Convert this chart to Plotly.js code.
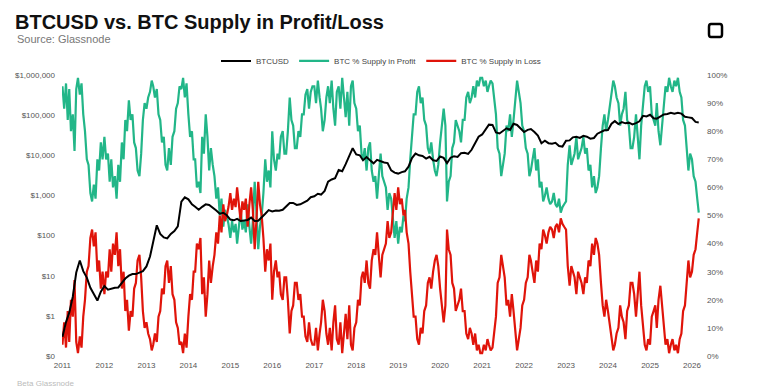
<!DOCTYPE html>
<html><head><meta charset="utf-8">
<script src="https://cdn.plot.ly/plotly-3.0.1.min.js"></script>
<style>html,body{margin:0;padding:0;background:#fff;} #chart{width:761px;height:391px;}</style>
</head><body><div id="chart"></div>
<script>
const startYear = 2011;

// BTCUSD, monthly (1st of month) from Jan 2011
const btcPrice = [
  0.3, 0.7, 1.2, 3, 12, 24, 13, 9, 5, 3.5, 2.4, 4,
  5.5, 4.5, 4.8, 5, 5.1, 6.5, 8.5, 10, 11, 11, 12, 13,
  17, 30, 70, 180, 110, 90, 85, 110, 130, 170, 700, 900,
  800, 600, 520, 440, 520, 600, 580, 500, 420, 350, 370, 320,
  250, 240, 260, 230, 235, 245, 280, 230, 235, 280, 350, 430,
  400, 420, 415, 440, 520, 650, 650, 580, 600, 680, 740, 900,
  950, 1100, 1050, 1300, 2200, 2500, 2700, 4300, 4000, 6000, 9500, 15000,
  10500, 10000, 7500, 9000, 7500, 6300, 7700, 7000, 6600, 6400, 4200, 3700,
  3500, 3800, 4000, 5200, 8500, 11000, 10000, 9600, 8300, 9200, 7500, 7200,
  9300, 8600, 6400, 8700, 9500, 9100, 11300, 11600, 10800, 13700, 19500, 29000,
  33000, 45000, 58000, 57000, 37000, 35000, 41000, 47000, 43000, 61000, 57000, 46000,
  38000, 43000, 45000, 38000, 31000, 20000, 23000, 20000, 19500, 20500, 17000, 16500,
  23000, 23500, 28000, 29000, 27000, 30500, 29000, 26000, 27000, 34500, 37700, 42000,
  42500, 61000, 71000, 60000, 67000, 62500, 65000, 59000, 63000, 70000, 96000, 93000,
  102000, 84000, 82000, 94000, 104000, 107000, 115000, 108000, 114000, 109000, 91000, 88000,
  85000, 68000, 66000
];

// % of BTC supply in profit / in loss, twice a month (1st and 16th) from Jan 2011
const supplyProfit = [
  96, 88, 97, 84, 95, 80, 86, 73, 95, 99, 93, 97, 86, 80, 70, 68, 58, 55, 61, 56, 70, 66, 76, 70,
  78, 70, 72, 62, 70, 60, 64, 56, 68, 62, 76, 70, 84, 80, 91, 84, 86, 76, 74, 66, 64, 72, 84, 90,
  88, 92, 94, 98, 96, 92, 95, 86, 84, 76, 78, 68, 66, 74, 68, 78, 80, 88, 90, 96, 95, 99, 92, 97,
  86, 78, 80, 70, 70, 60, 62, 58, 78, 72, 86, 78, 66, 74, 68, 64, 56, 60, 50, 56, 46, 52, 50, 47,
  42, 48, 44, 47, 40, 46, 52, 45, 48, 44, 54, 46, 40, 48, 62, 52, 38, 46, 50, 58, 70, 62, 66, 60,
  80, 70, 66, 72, 70, 78, 80, 72, 72, 80, 92, 84, 82, 74, 74, 80, 78, 86, 86, 93, 95, 88, 94, 96,
  96, 90, 98, 92, 88, 80, 84, 92, 96, 90, 98, 88, 82, 94, 96, 88, 99, 92, 85, 94, 82, 96, 98, 90,
  88, 80, 82, 72, 70, 74, 66, 74, 76, 66, 62, 64, 56, 64, 72, 64, 62, 60, 52, 58, 56, 50, 42, 48,
  40, 46, 44, 50, 48, 56, 60, 70, 78, 86, 86, 94, 96, 90, 92, 84, 82, 74, 72, 76, 70, 66, 64, 68,
  76, 82, 88, 82, 55, 62, 64, 74, 76, 84, 82, 80, 76, 84, 84, 92, 94, 90, 92, 96, 92, 98, 96, 99,
  99, 96, 98, 94, 96, 98, 97, 90, 86, 74, 72, 64, 68, 72, 82, 80, 86, 78, 84, 90, 98, 94, 90, 82,
  80, 74, 72, 64, 66, 70, 74, 66, 70, 60, 62, 55, 57, 60, 56, 54, 55, 58, 54, 53, 56, 51, 53, 54,
  55, 68, 75, 68, 70, 72, 78, 70, 72, 74, 78, 72, 74, 66, 68, 60, 64, 58, 60, 64, 74, 82, 86, 80,
  84, 88, 94, 98, 96, 92, 90, 82, 86, 88, 94, 84, 82, 74, 74, 78, 86, 76, 70, 82, 90, 96, 98, 94,
  96, 86, 84, 82, 90, 80, 75, 82, 88, 96, 94, 99, 96, 94, 98, 96, 99, 94, 92, 84, 82, 72, 66, 72,
  70, 64, 62, 56, 51
];

const supplyLoss = [
  4, 12, 3, 16, 5, 20, 14, 27, 5, 1, 7, 3, 14, 20, 30, 32, 42, 45, 39, 44, 30, 34, 24, 30,
  22, 30, 28, 38, 30, 40, 36, 44, 32, 38, 24, 30, 16, 20, 9, 16, 14, 24, 26, 34, 36, 28, 16, 10,
  12, 8, 6, 2, 4, 8, 5, 14, 16, 24, 22, 32, 34, 26, 32, 22, 20, 12, 10, 4, 5, 1, 8, 3,
  14, 22, 20, 30, 30, 40, 38, 42, 22, 28, 14, 22, 34, 26, 32, 36, 44, 40, 50, 44, 54, 48, 50, 53,
  58, 52, 56, 53, 60, 54, 48, 55, 52, 56, 46, 54, 60, 52, 38, 48, 62, 54, 50, 42, 30, 38, 34, 40,
  20, 30, 34, 28, 30, 22, 20, 28, 28, 20, 8, 16, 18, 26, 26, 20, 22, 14, 14, 7, 5, 12, 6, 4,
  4, 10, 2, 8, 12, 20, 16, 8, 4, 10, 2, 12, 18, 6, 4, 12, 1, 8, 15, 6, 18, 4, 2, 10,
  12, 20, 18, 28, 30, 26, 34, 26, 24, 34, 38, 36, 44, 36, 28, 36, 38, 40, 48, 42, 44, 50, 58, 52,
  60, 54, 56, 50, 52, 44, 40, 30, 22, 14, 14, 6, 4, 10, 8, 16, 18, 26, 28, 24, 30, 34, 36, 32,
  24, 18, 12, 18, 45, 38, 36, 26, 24, 16, 18, 20, 24, 16, 16, 8, 6, 10, 8, 4, 8, 2, 4, 1,
  1, 4, 2, 6, 4, 2, 3, 10, 14, 26, 28, 36, 32, 28, 18, 20, 14, 22, 16, 10, 2, 6, 10, 18,
  20, 26, 28, 36, 34, 30, 26, 34, 30, 40, 38, 45, 43, 40, 44, 46, 45, 42, 46, 47, 44, 49, 47, 46,
  45, 32, 25, 32, 30, 28, 22, 30, 28, 26, 22, 28, 26, 34, 32, 40, 36, 42, 40, 36, 26, 18, 14, 20,
  16, 12, 6, 2, 4, 8, 10, 18, 14, 12, 6, 16, 18, 26, 26, 22, 14, 24, 30, 18, 10, 4, 2, 6,
  4, 14, 16, 18, 10, 20, 25, 18, 12, 4, 6, 1, 4, 6, 2, 4, 1, 6, 8, 16, 18, 28, 34, 28,
  30, 36, 38, 44, 49
];

const yearLabels = ['2011','2012','2013','2014','2015','2016','2017','2018','2019','2020','2021','2022','2023','2024','2025','2026'];
const priceTickVals = [0.1, 1, 10, 100, 1000, 10000, 100000, 1000000];
const priceTickText = ['$0','$1','$10','$100','$1,000','$10,000','$100,000','$1,000,000'];
const pctTickVals = [0, 10, 20, 30, 40, 50, 60, 70, 80, 90, 100];
const pctTickText = ['0%','10%','20%','30%','40%','50%','60%','70%','80%','90%','100%'];

const pad = n => String(n).padStart(2, '0');
const priceDates = btcPrice.map((_, i) => (startYear + Math.floor(i / 12)) + '-' + pad(i % 12 + 1) + '-01');
const supplyDates = supplyProfit.map((_, i) => {
  const y = startYear + Math.floor(i / 24);
  const m = Math.floor((i % 24) / 2) + 1;
  return y + '-' + pad(m) + '-' + (i % 2 ? '16' : '01');
});
const yearTickVals = yearLabels.map(y => y + '-01-01');

const FONT = '"Liberation Sans", Arial, sans-serif';
const tickFont = {family: FONT, size: 8, color: '#555'};

const traces = [
  {x: priceDates, y: btcPrice, name: 'BTCUSD', type: 'scatter', mode: 'lines', yaxis: 'y2',
   line: {color: '#000', width: 2}},
  {x: supplyDates, y: supplyProfit, name: 'BTC % Supply in Profit', type: 'scatter', mode: 'lines', yaxis: 'y',
   line: {color: '#22b688', width: 2.2}},
  {x: supplyDates, y: supplyLoss, name: 'BTC % Supply in Loss', type: 'scatter', mode: 'lines', yaxis: 'y',
   line: {color: '#e0140a', width: 2.2}}
];

const layout = {
  width: 761, height: 391,
  margin: {l: 62, r: 61, t: 75, b: 35, pad: 0},
  paper_bgcolor: '#fff', plot_bgcolor: '#fff',
  font: {family: FONT, color: '#444'},
  title: {text: '<b>BTCUSD vs. BTC Supply in Profit/Loss</b>', xref: 'container', x: 15/761, xanchor: 'left',
          yref: 'container', y: 1 - 22/391, yanchor: 'middle',
          font: {family: FONT, size: 20, color: '#111'}},
  showlegend: true,
  legend: {orientation: 'h', x: 0.5, xanchor: 'center', y: 1.05, yanchor: 'middle',
           font: {family: FONT, size: 8, color: '#444'}, traceorder: 'normal', itemwidth: 30},
  xaxis: {type: 'date', range: ['2010-12-28', '2026-03-12'], tickvals: yearTickVals, ticktext: yearLabels,
          showgrid: false, zeroline: false, showline: false, ticks: '', tickfont: tickFont, ticklabelstandoff: 3},
  yaxis: {side: 'right', range: [0, 100], tickvals: pctTickVals, ticktext: pctTickText, showgrid: false, zeroline: false,
          showline: false, ticks: '', tickfont: tickFont, ticklabelstandoff: 6},
  yaxis2: {side: 'left', overlaying: 'y', type: 'log', range: [-1, 6], tickvals: priceTickVals, ticktext: priceTickText,
           showgrid: false, zeroline: false, showline: false, ticks: '', tickfont: tickFont, ticklabelstandoff: 6},
  annotations: [
    {text: 'Source: Glassnode', xref: 'paper', yref: 'paper', x: (15-62)/638, y: (356-39)/281,
     xanchor: 'left', yanchor: 'middle', showarrow: false, font: {family: FONT, size: 11, color: '#777'}},
    {text: 'Beta Glassnode', xref: 'paper', yref: 'paper', x: (15-62)/638, y: (356-383)/281,
     xanchor: 'left', yanchor: 'middle', showarrow: false, font: {family: FONT, size: 8, color: '#bbb'}}
  ],
  shapes: [
    {type: 'path', xref: 'paper', yref: 'paper', line: {color: '#000', width: 2.5},
     path: 'M 1.0172 1.1815 L 1.0314 1.1815 Q 1.0345 1.1815 1.0345 1.1715 L 1.0345 1.1452 Q 1.0345 1.1352 1.0314 1.1352 L 1.0172 1.1352 Q 1.0141 1.1352 1.0141 1.1452 L 1.0141 1.1715 Q 1.0141 1.1815 1.0172 1.1815 Z'}
  ]
};

Plotly.newPlot('chart', traces, layout, {displayModeBar: false, staticPlot: true});
</script>
</body></html>
